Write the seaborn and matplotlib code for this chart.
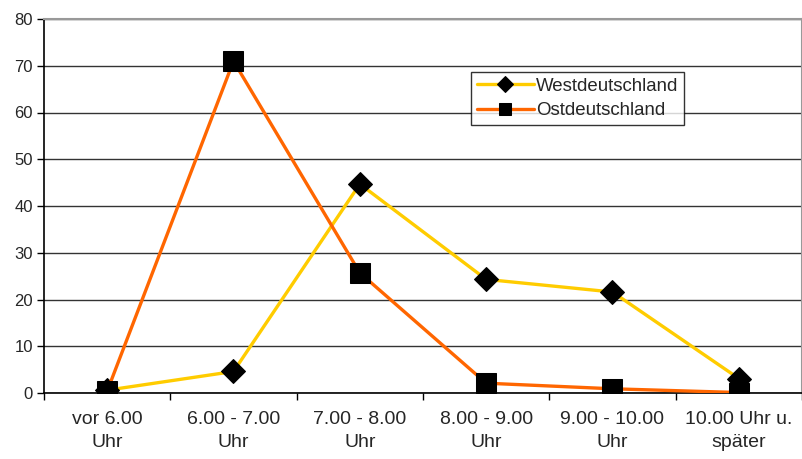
import matplotlib
matplotlib.use("Agg")
import matplotlib.pyplot as plt
import seaborn as sns
import numpy as np
import pandas as pd

# Data
categories = ["vor 6.00\nUhr", "6.00 - 7.00\nUhr", "7.00 - 8.00\nUhr",
              "8.00 - 9.00\nUhr", "9.00 - 10.00\nUhr", "10.00 Uhr u.\nspäter"]
west = [0.6, 4.6, 44.7, 24.3, 21.6, 3.1]
ost = [0.4, 71.0, 25.7, 2.1, 0.9, 0.1]

sns.set_style("white")
plt.rcParams['font.family'] = ['Liberation Sans', 'DejaVu Sans']

fig = plt.figure(figsize=(8.03, 4.59), dpi=100)
ax = fig.add_axes([44 / 803, 1 - 393 / 459, 758 / 803, 374 / 459])

pos = np.arange(len(categories))
df_w = pd.DataFrame({"x": pos, "y": west})
df_o = pd.DataFrame({"x": pos, "y": ost})

sns.lineplot(data=df_w, x="x", y="y", ax=ax, color="#FFCC00", lw=2.4,
             marker="D", markersize=12, markerfacecolor="black",
             markeredgecolor="black", label="Westdeutschland", zorder=3)
sns.lineplot(data=df_o, x="x", y="y", ax=ax, color="#FF6600", lw=2.4,
             marker="s", markersize=15, markerfacecolor="black",
             markeredgecolor="black", label="Ostdeutschland", zorder=4)

ax.set_xlim(-0.5, len(categories) - 0.5)
ax.set_ylim(0, 80)
ax.set_yticks(range(0, 81, 10))
ax.yaxis.grid(True, color="#333333", lw=1)
ax.xaxis.grid(False)
ax.set_xticks(pos)
ax.set_xticklabels(categories, fontsize=14, linespacing=1.45)
ax.set_xticks(np.arange(-0.5, len(categories) - 0.4, 1), minor=True)
ax.tick_params(axis="x", which="major", length=0, pad=13)
ax.tick_params(axis="x", which="minor", length=5, width=1, color="black",
               direction="out", bottom=True)
ax.tick_params(axis="y", length=5, width=1, color="black", direction="out",
               left=True, labelsize=12, pad=3)
ax.set_xlabel("")
ax.set_ylabel("")

for s in ["left", "bottom"]:
    ax.spines[s].set_color("black")
    ax.spines[s].set_linewidth(1.2)
for s in ["top", "right"]:
    ax.spines[s].set_color("#999999")
    ax.spines[s].set_linewidth(1.5)

leg = ax.legend(loc="upper left", bbox_to_anchor=(427 / 758, 1 - 53 / 374),
                frameon=True, fancybox=False, fontsize=13.4,
                handlelength=3.1, handletextpad=0.1, borderpad=0.3,
                labelspacing=0.4, borderaxespad=0)
leg.get_frame().set_edgecolor("black")
leg.get_frame().set_linewidth(1)
for h in leg.legend_handles:
    h.set_markersize(8)

fig.savefig("out.png", dpi=100)
